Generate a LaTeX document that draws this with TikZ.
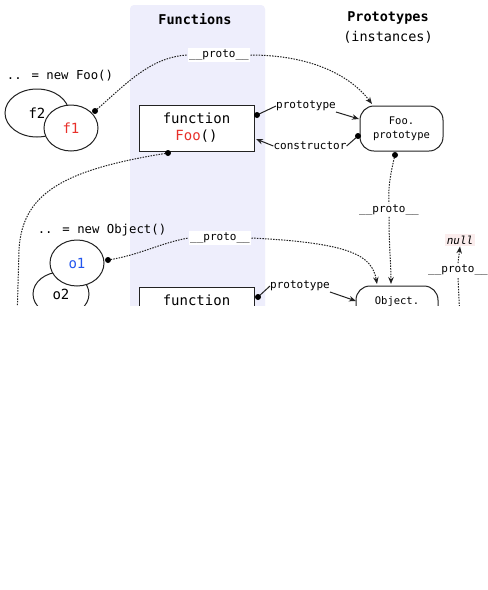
\documentclass[tikz,border=0pt]{standalone}
\usepackage{fontspec}
\setmainfont{DejaVu Sans Mono}
\setmonofont{DejaVu Sans Mono}
\usetikzlibrary{arrows.meta,shapes.geometric}
\definecolor{lav}{HTML}{EEEEFC}
\definecolor{edge}{HTML}{222222}
\definecolor{fred}{HTML}{E8302A}
\definecolor{oblue}{HTML}{2255EE}
\definecolor{nullbg}{HTML}{FBEDED}
\tikzset{
  lbl/.style={fill=white,inner sep=1.5pt,font=\fontsize{11}{12}\selectfont},
  plain/.style={inner sep=0pt,font=\fontsize{11}{12}\selectfont},
  fnbox/.style={draw=edge,line width=1pt,fill=white,minimum width=115pt,minimum height=46pt,align=center,font=\fontsize{14}{17}\selectfont},
  protobox/.style={draw=edge,line width=1pt,fill=white,rounded corners=14pt,minimum width=83pt,minimum height=45pt,align=center,font=\fontsize{10.5}{14}\selectfont},
  obj/.style={draw=edge,line width=1pt,fill=white,ellipse,inner sep=0pt,font=\fontsize{14}{16}\selectfont},
  dotln/.style={draw=edge,line width=1pt,dash pattern=on 1.5pt off 1.2pt},
  solidln/.style={draw=edge,line width=1pt},
  tip/.style={-{Stealth[length=7pt,width=5.5pt]}},
  ball/.style={circle,fill=black,inner sep=0pt,minimum size=6pt}
}
\begin{document}
\begin{tikzpicture}[x=1pt,y=-1pt]
\useasboundingbox (0,0) rectangle (488,590);
\fill[white] (0,0) rectangle (488,590);
\begin{scope}
\clip (0,0) rectangle (488,305.5);
% Functions column
\fill[lav,rounded corners=4pt] (130,5) rectangle (265,400);
\node[font=\bfseries\fontsize{13.5}{15}\selectfont] (hfun) at (195,19) {Functions};
\node[font=\bfseries\fontsize{13.5}{15}\selectfont] (hpro) at (388,18) {Prototypes};
\node[font=\fontsize{13.5}{15}\selectfont] (hins) at (388,37) {(instances)};

% captions
\node[font=\fontsize{12.3}{14}\selectfont] (newfoo) at (60,76) {.. = new Foo()};
\node[font=\fontsize{12.3}{14}\selectfont] (newobj) at (102,230) {.. = new Object()};

% nodes
\node[fnbox] (foo) at (196.5,128) {function\\\textcolor{fred}{Foo}()};
\node[protobox] (foop) at (401.5,128.5) {Foo.\\prototype};
\node[fnbox] (objf) at (196.5,310) {function\\Object()};
\node[protobox,minimum width=82pt] (objp) at (397,308.5) {Object.\\prototype};

% coordinates for connectors
\coordinate (f1d) at (95,111);
\coordinate (food) at (168,153);
\coordinate (fpd) at (395,155);
\coordinate (o1d) at (108,260);
\coordinate (foor) at (257,115);
\coordinate (fooin) at (256,139);
\coordinate (fpc) at (358,136);
\coordinate (fpin) at (359,119);
\coordinate (objfr) at (258,297);
\coordinate (objin) at (356,301);
\coordinate (fpt1) at (372,104);
\coordinate (opt1) at (377,284);
\coordinate (opt2) at (391,284);
\coordinate (nullsrc) at (460,320);
\coordinate (leftend) at (17,320);

% labels
\node[lbl] (pr1) at (219,55) {\_\_proto\_\_};
\node[lbl] (pr2) at (220,238) {\_\_proto\_\_};
\node[lbl] (pr3) at (389,210) {\_\_proto\_\_};
\node[lbl] (pr4) at (458,270) {\_\_proto\_\_};
\node[plain] (pt1) at (306,106) {prototype};
\node[plain] (ct1) at (310,146) {constructor};
\node[plain] (pt2) at (300,286) {prototype};
\node[fill=nullbg,inner sep=2pt,font=\itshape\fontsize{11}{12}\selectfont] (null) at (460,240) {null};

% dotted proto connectors
\draw[dotln] (f1d) .. controls (125,85) and (150,57) .. (pr1.west);
\draw[dotln,tip] (pr1.east) .. controls (310,55) and (350,75) .. (fpt1);
\draw[dotln] (food) .. controls (60,170) and (22,195) .. (19,250) -- (leftend);
\draw[dotln] (fpd) .. controls (390,175) and (388,190) .. (pr3.north);
\draw[dotln,tip] (pr3.south) .. controls (389,245) and (391,265) .. (opt2);
\draw[dotln] (o1d) .. controls (140,255) and (160,243) .. (pr2.west);
\draw[dotln,tip] (pr2.east) .. controls (350,243) and (372,255) .. (opt1);
\draw[dotln] (nullsrc) -- (pr4.south);
\draw[dotln,tip] (pr4.north) -- (null.south);

% solid prototype/constructor connectors
\draw[solidln] (foor) -- (pt1.west);
\draw[solidln,tip] (pt1.east |- 0,112) -- (fpin);
\draw[solidln] (fpc) -- (ct1.east);
\draw[solidln,tip] (ct1.west) -- (fooin);
\draw[solidln] (objfr) -- (pt2.west);
\draw[solidln,tip] (pt2.east |- 0,292) -- (objin);

% objects
\node[obj,minimum width=64pt,minimum height=48pt] (f2) at (37,113) {f2};
\node[obj,minimum width=54pt,minimum height=46pt] (f1) at (71,128) {\textcolor{fred}{f1}};
\node[obj,minimum width=56pt,minimum height=44pt] (o2) at (61,294) {o2};
\node[obj,minimum width=54pt,minimum height=46pt] (o1) at (77,263) {\textcolor{oblue}{o1}};

% dots
\node[ball] (b1) at (f1d) {};
\node[ball] (b2) at (food) {};
\node[ball] (b3) at (fpd) {};
\node[ball] (b4) at (o1d) {};
\node[ball] (b5) at (foor) {};
\node[ball] (b6) at (fpc) {};
\node[ball] (b7) at (objfr) {};
\end{scope}
\end{tikzpicture}
\end{document}
